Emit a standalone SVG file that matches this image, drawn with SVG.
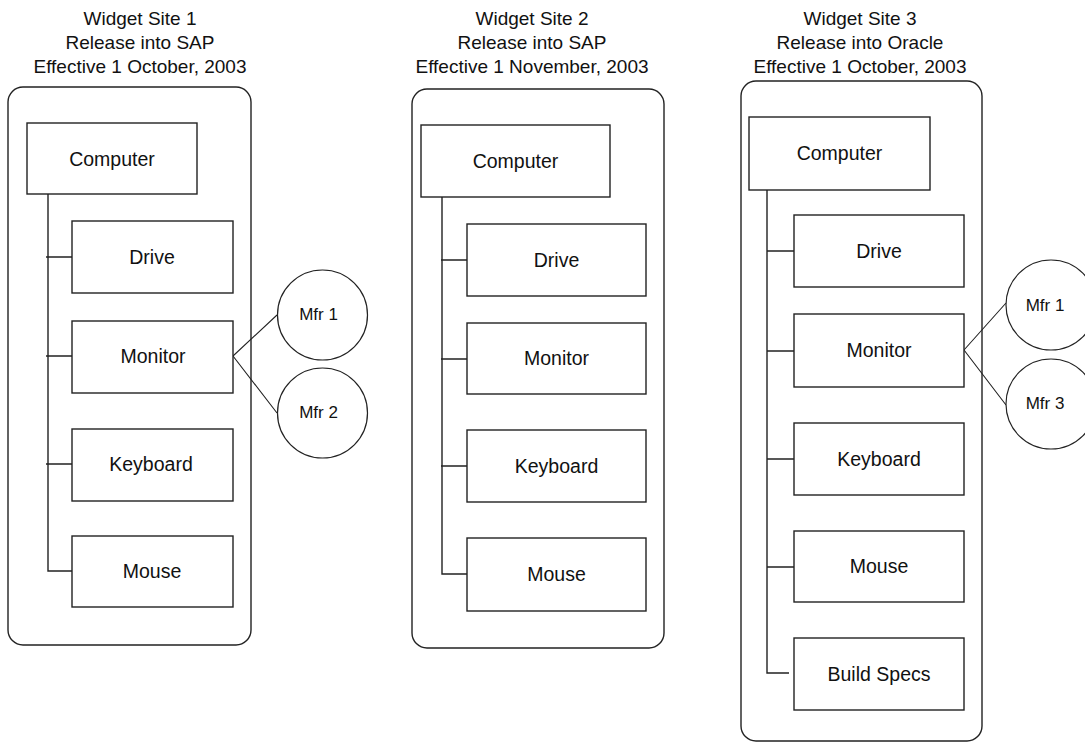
<svg xmlns="http://www.w3.org/2000/svg" width="1085" height="743" viewBox="0 0 1085 743">
<style>
  .bg { fill: #ffffff; }
  .site { fill: none; stroke: #222; stroke-width: 1.4; }
  .box { fill: #ffffff; stroke: #222; stroke-width: 1.4; }
  .mfr { fill: #ffffff; stroke: #222; stroke-width: 1.2; }
  .conn { fill: none; stroke: #222; stroke-width: 1.4; }
  .thin { fill: none; stroke: #222; stroke-width: 1.1; }
  text { font-family: "Liberation Sans", Arial, sans-serif; fill: #111; text-anchor: middle; }
  .title { font-size: 19px; }
  .lbl { font-size: 19.5px; }
  .small { font-size: 17px; }
</style>
<rect class="bg" x="0" y="0" width="1085" height="743"/>

<g id="site1">
  <rect class="site" x="8" y="87" width="243" height="558" rx="15" ry="15"/>
  <text class="title" x="140" y="25">Widget Site 1</text>
  <text class="title" x="140" y="49">Release into SAP</text>
  <text class="title" x="140" y="73">Effective 1 October, 2003</text>
</g>
<g id="site2">
  <rect class="site" x="412" y="89" width="252" height="559" rx="15" ry="15"/>
  <text class="title" x="532" y="25">Widget Site 2</text>
  <text class="title" x="532" y="49">Release into SAP</text>
  <text class="title" x="532" y="73">Effective 1 November, 2003</text>
</g>
<g id="site3">
  <rect class="site" x="741" y="81" width="241" height="660" rx="15" ry="15"/>
  <text class="title" x="860" y="25">Widget Site 3</text>
  <text class="title" x="860" y="49">Release into Oracle</text>
  <text class="title" x="860" y="73">Effective 1 October, 2003</text>
</g>

<g id="connectors">
  <path class="conn" d="M48 194 V571 H72 M46 257 H72 M46 356 H72 M46 464 H72"/>
  <path class="conn" d="M442 197 V574 H467 M441 260 H467 M441 359 H467 M441 466 H467"/>
  <path class="conn" d="M767 190 V673 H789 M767 251 H794 M767 351 H794 M767 459 H794 M767 567 H794"/>
  <path class="thin" d="M233 356 L277 315 M233 356 L277 413"/>
  <path class="thin" d="M964 350 L1006 303 M964 350 L1006 405"/>
</g>

<g id="s1-computer"><rect class="box" x="27" y="123" width="170" height="71"/><text class="lbl" x="112" y="165.5">Computer</text></g>
<g id="s1-drive"><rect class="box" x="72" y="221" width="161" height="72"/><text class="lbl" x="152" y="264">Drive</text></g>
<g id="s1-monitor"><rect class="box" x="72" y="321" width="161" height="72"/><text class="lbl" x="153" y="363">Monitor</text></g>
<g id="s1-keyboard"><rect class="box" x="72" y="429" width="161" height="72"/><text class="lbl" x="151" y="471">Keyboard</text></g>
<g id="s1-mouse"><rect class="box" x="72" y="536" width="161" height="71"/><text class="lbl" x="152" y="578">Mouse</text></g>
<g id="s1-mfr1"><circle class="mfr" cx="322.5" cy="315" r="45"/><text class="small" x="318.5" y="320">Mfr 1</text></g>
<g id="s1-mfr2"><circle class="mfr" cx="322.5" cy="413" r="45"/><text class="small" x="318.5" y="418">Mfr 2</text></g>

<g id="s2-computer"><rect class="box" x="421" y="125" width="189" height="72"/><text class="lbl" x="515.5" y="168">Computer</text></g>
<g id="s2-drive"><rect class="box" x="467" y="224" width="179" height="72"/><text class="lbl" x="556.5" y="267">Drive</text></g>
<g id="s2-monitor"><rect class="box" x="467" y="323" width="179" height="71"/><text class="lbl" x="556.5" y="365">Monitor</text></g>
<g id="s2-keyboard"><rect class="box" x="467" y="430" width="179" height="72"/><text class="lbl" x="556.5" y="473">Keyboard</text></g>
<g id="s2-mouse"><rect class="box" x="467" y="538" width="179" height="73"/><text class="lbl" x="556.5" y="581">Mouse</text></g>

<g id="s3-computer"><rect class="box" x="749" y="117" width="181" height="73"/><text class="lbl" x="839.5" y="160">Computer</text></g>
<g id="s3-drive"><rect class="box" x="794" y="215" width="170" height="72"/><text class="lbl" x="879" y="258">Drive</text></g>
<g id="s3-monitor"><rect class="box" x="794" y="314" width="170" height="73"/><text class="lbl" x="879" y="357">Monitor</text></g>
<g id="s3-keyboard"><rect class="box" x="794" y="423" width="170" height="72"/><text class="lbl" x="879" y="466">Keyboard</text></g>
<g id="s3-mouse"><rect class="box" x="794" y="531" width="170" height="71"/><text class="lbl" x="879" y="573">Mouse</text></g>
<g id="s3-buildspecs"><rect class="box" x="794" y="638" width="170" height="72"/><text class="lbl" x="879" y="681">Build Specs</text></g>
<g id="s3-mfr1"><circle class="mfr" cx="1051" cy="305" r="45"/><text class="small" x="1045" y="311">Mfr 1</text></g>
<g id="s3-mfr3"><circle class="mfr" cx="1051" cy="404" r="45"/><text class="small" x="1045" y="409">Mfr 3</text></g>
</svg>
